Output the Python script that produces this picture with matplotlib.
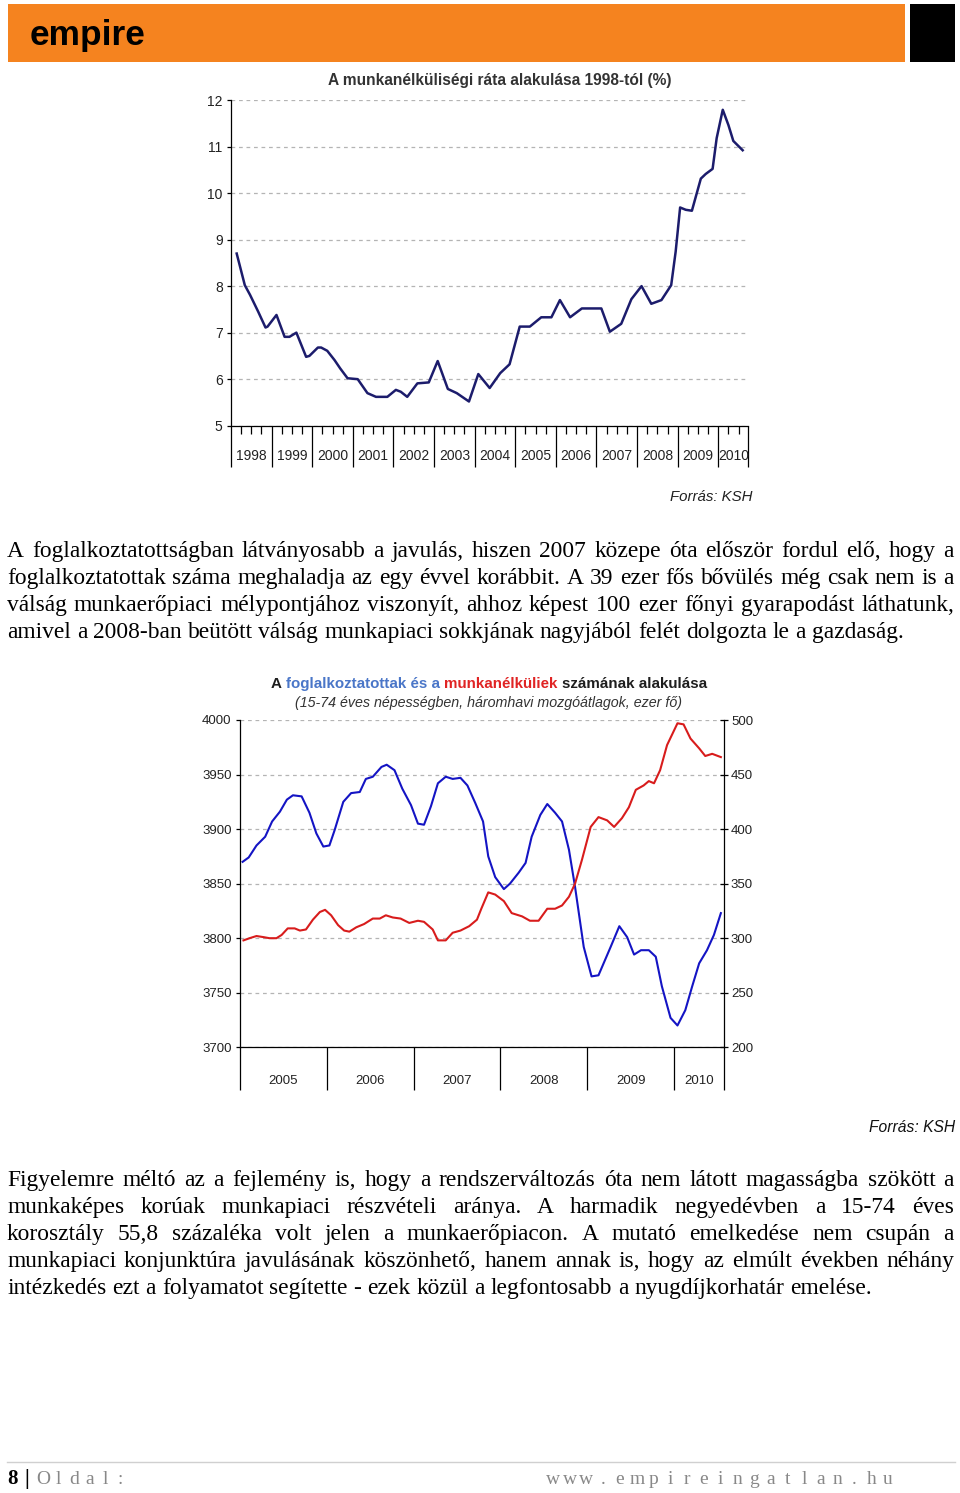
import matplotlib
matplotlib.use('Agg')
import matplotlib.pyplot as plt
from matplotlib.transforms import blended_transform_factory
from matplotlib.patches import Rectangle
from matplotlib.lines import Line2D

# ---------------- data ----------------
# Chart 1: unemployment rate (%) 1998-2010
rate_t = [1998.14, 1998.34, 1998.47, 1998.67, 1998.85, 1998.90, 1999.12, 1999.32, 1999.44, 1999.61,
          1999.85, 1999.93, 2000.14, 2000.22, 2000.37, 2000.55, 2000.69, 2000.87, 2001.12, 2001.36,
          2001.57, 2001.85, 2002.06, 2002.18, 2002.34, 2002.59, 2002.87, 2003.09, 2003.34, 2003.56,
          2003.86, 2004.09, 2004.37, 2004.63, 2004.86, 2005.11, 2005.36, 2005.64, 2005.89, 2006.10,
          2006.35, 2006.64, 2007.12, 2007.33, 2007.61, 2007.86, 2008.11, 2008.35, 2008.60, 2008.84,
          2008.95, 2009.06, 2009.20, 2009.35, 2009.57, 2009.69, 2009.86, 2009.96, 2010.11, 2010.25,
          2010.37, 2010.60]
rate_v = [8.70, 8.02, 7.81, 7.45, 7.11, 7.13, 7.38, 6.91, 6.91, 7.00,
          6.48, 6.50, 6.68, 6.68, 6.61, 6.41, 6.23, 6.02, 6.00, 5.70,
          5.62, 5.62, 5.77, 5.73, 5.62, 5.91, 5.93, 6.39, 5.79, 5.70,
          5.52, 6.11, 5.81, 6.13, 6.32, 7.13, 7.13, 7.33, 7.33, 7.70,
          7.33, 7.52, 7.52, 7.02, 7.19, 7.72, 8.00, 7.62, 7.70, 8.02,
          8.74, 9.69, 9.64, 9.62, 10.31, 10.41, 10.52, 11.18, 11.79, 11.46,
          11.12, 10.92]
years1 = list(range(1998, 2011))
year_labels1 = [str(y) for y in years1]

# Chart 2: employed (left axis) and unemployed (right axis), thousand persons
emp_t = [2005.03, 2005.10, 2005.19, 2005.29, 2005.37, 2005.46, 2005.54, 2005.61, 2005.71, 2005.80,
         2005.88, 2005.96, 2006.03, 2006.09, 2006.19, 2006.28, 2006.38, 2006.45, 2006.53, 2006.63,
         2006.69, 2006.78, 2006.87, 2006.97, 2007.05, 2007.12, 2007.20, 2007.28, 2007.37, 2007.45,
         2007.54, 2007.62, 2007.71, 2007.80, 2007.86, 2007.94, 2008.04, 2008.11, 2008.21, 2008.29,
         2008.36, 2008.46, 2008.54, 2008.63, 2008.71, 2008.79, 2008.86, 2008.96, 2009.05, 2009.13,
         2009.27, 2009.37, 2009.46, 2009.54, 2009.62, 2009.71, 2009.79, 2009.86, 2009.96, 2010.04,
         2010.13, 2010.21, 2010.29, 2010.38, 2010.46, 2010.54]
emp_v = [3870, 3874, 3885, 3893, 3907, 3916, 3927, 3931, 3930, 3915,
         3896, 3884, 3885, 3899, 3925, 3933, 3934, 3946, 3948, 3957,
         3959, 3954, 3937, 3922, 3905, 3904, 3921, 3942, 3948, 3946,
         3947, 3940, 3924, 3907, 3875, 3856, 3845, 3850, 3860, 3869,
         3893, 3913, 3923, 3915, 3907, 3881, 3847, 3792, 3765, 3766,
         3792, 3811, 3801, 3785, 3789, 3789, 3783, 3756, 3727, 3720,
         3734, 3756, 3777, 3789, 3803, 3823]
unemp_t = [2005.04, 2005.11, 2005.19, 2005.27, 2005.34, 2005.42, 2005.48, 2005.55, 2005.63, 2005.69,
           2005.76, 2005.84, 2005.92, 2005.98, 2006.05, 2006.13, 2006.20, 2006.26, 2006.34, 2006.43,
           2006.53, 2006.61, 2006.68, 2006.76, 2006.85, 2006.95, 2007.05, 2007.12, 2007.22, 2007.28,
           2007.37, 2007.45, 2007.54, 2007.64, 2007.73, 2007.78, 2007.86, 2007.94, 2008.04, 2008.13,
           2008.25, 2008.34, 2008.44, 2008.54, 2008.63, 2008.71, 2008.79, 2008.86, 2008.94, 2009.04,
           2009.13, 2009.23, 2009.31, 2009.40, 2009.48, 2009.56, 2009.65, 2009.71, 2009.77, 2009.84,
           2009.92, 2010.04, 2010.11, 2010.19, 2010.29, 2010.36, 2010.44, 2010.54]
unemp_v = [298, 300, 302, 301, 300, 300, 303, 309, 309, 307,
           308, 317, 324, 326, 321, 312, 307, 306, 310, 313,
           318, 318, 321, 319, 318, 314, 316, 315, 308, 298,
           298, 305, 307, 311, 317, 327, 342, 340, 334, 323,
           320, 316, 316, 327, 327, 330, 338, 350, 372, 402,
           411, 408, 402, 410, 420, 436, 440, 444, 442, 454,
           477, 497, 496, 483, 474, 467, 469, 466]
years2 = list(range(2005, 2011))
year_labels2 = [str(y) for y in years2]

# ---------------- page ----------------
W, H = 960, 1493
fig = plt.figure(figsize=(9.6, 14.93), dpi=100)
fig.patch.set_facecolor('white')
renderer = fig.canvas.get_renderer()

SANS = ['Liberation Sans', 'DejaVu Sans']
SERIF = ['Liberation Serif', 'DejaVu Serif']


def fx(x):
    return x / W


def fy(y):
    return 1 - y / H


def measure(s, **kw):
    t = fig.text(0, 0, s, **kw)
    w = t.get_window_extent(renderer).width
    t.remove()
    return w


def fit_size(s, target, **kw):
    return 10 * target / measure(s, fontsize=10, **kw)


# header
fig.add_artist(Rectangle((fx(8), fy(62)), fx(897), 58 / H, transform=fig.transFigure,
                         facecolor='#F5831F', edgecolor='none'))
fig.add_artist(Rectangle((fx(910), fy(62)), fx(45), 58 / H, transform=fig.transFigure,
                         facecolor='black', edgecolor='none'))
fig.text(fx(30), fy(45), 'empire', fontsize=fit_size('empire', 116, family=SANS, fontweight='heavy'),
         family=SANS, fontweight='heavy', color='black', ha='left', va='baseline')

# ---------------- chart 1 ----------------
ax1 = fig.add_axes([fx(231), fy(425.7), (748.3 - 231) / W, (425.7 - 100) / H])
x1end = 2010.739
ax1.plot(rate_t, rate_v, color='#1c1c6c', lw=1.8, solid_joinstyle='round')
ax1.set_xlim(1998, x1end)
ax1.set_ylim(5, 12)
ax1.set_yticks(range(5, 13))
ax1.tick_params(axis='y', length=3, width=0.9, direction='out', labelsize=10, pad=3,
                colors='black', labelcolor='#222222')
for lbl in ax1.get_yticklabels():
    lbl.set_family(SANS)
ax1.yaxis.grid(True, linestyle=(0, (3, 3)), color='#b4b4b4', lw=0.9)
ax1.set_axisbelow(True)
ax1.set_xticks(years1 + [x1end])
ax1.set_xticklabels([''] * (len(years1) + 1))
quarters = [y + q / 4 for y in years1 for q in (1, 2, 3) if y + q / 4 < x1end]
ax1.set_xticks(quarters, minor=True)
ax1.tick_params(axis='x', which='major', length=29.5, width=0.9, direction='out', color='black')
ax1.tick_params(axis='x', which='minor', length=5.4, width=0.9, direction='out', color='black')
for s in ('top', 'right'):
    ax1.spines[s].set_visible(False)
for s in ('left', 'bottom'):
    ax1.spines[s].set_linewidth(0.9)
tr1 = blended_transform_factory(ax1.transData, fig.transFigure)
for y, lab in zip(years1, year_labels1):
    xc = y + 0.5 if y < 2010 else (2010 + x1end) / 2
    ax1.text(xc, fy(456), lab, transform=tr1, ha='center', va='center', fontsize=10,
             family=SANS, color='#222222')
title1 = 'A munkanélküliségi ráta alakulása 1998-tól (%)'
fig.text(fx(500), fy(81), title1, ha='center', va='center',
         fontsize=fit_size(title1, 344, family=SANS, fontweight='bold'),
         family=SANS, fontweight='bold', color='#333333')
src = 'Forrás: KSH'
fig.text(fx(753), fy(497), src, ha='right', va='center',
         fontsize=fit_size(src, 83, family=SANS, style='italic'),
         family=SANS, style='italic', color='#222222')

# ---------------- paragraphs ----------------
para1 = [
    'A foglalkoztatottságban látványosabb a javulás, hiszen 2007 közepe óta először fordul elő, hogy a',
    'foglalkoztatottak száma meghaladja az egy évvel korábbit. A 39 ezer fős bővülés még csak nem is a',
    'válság munkaerőpiaci mélypontjához viszonyít, ahhoz képest 100 ezer főnyi gyarapodást láthatunk,',
    'amivel a 2008-ban beütött válság munkapiaci sokkjának nagyjából felét dolgozta le a gazdaság.',
]
para2 = [
    'Figyelemre méltó az a fejlemény is, hogy a rendszerváltozás óta nem látott magasságba szökött a',
    'munkaképes korúak munkapiaci részvételi aránya. A harmadik negyedévben a 15-74 éves',
    'korosztály 55,8 százaléka volt jelen a munkaerőpiacon. A mutató emelkedése nem csupán a',
    'munkapiaci konjunktúra javulásának köszönhető, hanem annak is, hogy az elmúlt években néhány',
    'intézkedés ezt a folyamatot segítette - ezek közül a legfontosabb a nyugdíjkorhatár emelése.',
]
fs_body = fit_size(para1[-1], 902, family=SERIF)
space_w = measure('a a', fontsize=fs_body, family=SERIF) - measure('aa', fontsize=fs_body, family=SERIF)


def justify(lines, y0, pitch, x0=7, x1=954):
    for i, line in enumerate(lines):
        words = line.split(' ')
        widths = [measure(w, fontsize=fs_body, family=SERIF) for w in words]
        y = y0 + i * pitch
        if i < len(lines) - 1 and len(words) > 1:
            gap = (x1 - x0 - sum(widths)) / (len(words) - 1)
        else:
            gap = space_w
        x = x0
        for w, wd in zip(words, widths):
            fig.text(fx(x), fy(y), w, ha='left', va='baseline', fontsize=fs_body,
                     family=SERIF, color='black')
            x += wd + gap


justify(para1, 557, 27)
justify(para2, 1186, 27)

# ---------------- chart 2 ----------------
ax2 = fig.add_axes([fx(240), fy(1047.3), (724 - 240) / W, (1047.3 - 720) / H])
x2end = 2010.576
ax2.plot(emp_t, emp_v, color='#1414c4', lw=1.5)
ax2.set_xlim(2005, x2end)
ax2.set_ylim(3700, 4000)
ax2.set_yticks(range(3700, 4001, 50))
ax2.tick_params(axis='y', length=3, width=0.9, direction='out', labelsize=9.5, pad=3,
                colors='black', labelcolor='#222222')
for lbl in ax2.get_yticklabels():
    lbl.set_family(SANS)
ax2.yaxis.grid(True, linestyle=(0, (3, 3)), color='#b4b4b4', lw=0.9)
ax2.set_axisbelow(True)
ax2.set_xticks(years2 + [x2end])
ax2.set_xticklabels([''] * (len(years2) + 1))
ax2.tick_params(axis='x', which='major', length=31.3, width=0.9, direction='out', color='black')
for s in ('top', 'right'):
    ax2.spines[s].set_visible(False)
for s in ('left', 'bottom'):
    ax2.spines[s].set_linewidth(0.9)

ax2b = ax2.twinx()
ax2b.plot(unemp_t, unemp_v, color='#d81c1c', lw=1.5)
ax2b.set_ylim(200, 500)
ax2b.set_yticks(range(200, 501, 50))
ax2b.tick_params(axis='y', length=6, width=0.9, direction='inout', labelsize=9.5, pad=2,
                 colors='black', labelcolor='#222222')
for lbl in ax2b.get_yticklabels():
    lbl.set_family(SANS)
for s in ('top', 'left', 'bottom'):
    ax2b.spines[s].set_visible(False)
ax2b.spines['right'].set_linewidth(0.9)

tr2 = blended_transform_factory(ax2.transData, fig.transFigure)
for y, lab in zip(years2, year_labels2):
    xc = y + 0.5 if y < 2010 else (2010 + x2end) / 2
    ax2.text(xc, fy(1081), lab, transform=tr2, ha='center', va='center', fontsize=9.5,
             family=SANS, color='#222222')

# multi-coloured title
pieces = [('A', '#1e1e1e'), ('foglalkoztatottak és a', '#4a76c8'),
          ('munkanélküliek', '#e02424'), ('számának alakulása', '#1e1e1e')]
full_title = ' '.join(p for p, _ in pieces)
fs_t2 = fit_size(full_title, 434, family=SANS, fontweight='bold')
sp2 = measure('a a', fontsize=fs_t2, family=SANS, fontweight='bold') - \
    measure('aa', fontsize=fs_t2, family=SANS, fontweight='bold')
widths2 = [measure(p, fontsize=fs_t2, family=SANS, fontweight='bold') for p, _ in pieces]
total2 = sum(widths2) + sp2 * (len(pieces) - 1)
x = 489 - total2 / 2
for (p, c), wd in zip(pieces, widths2):
    fig.text(fx(x), fy(684), p, ha='left', va='center', fontsize=fs_t2, family=SANS,
             fontweight='bold', color=c)
    x += wd + sp2
sub2 = '(15-74 éves népességben, háromhavi mozgóátlagok, ezer fő)'
fig.text(fx(488.5), fy(703), sub2, ha='center', va='center',
         fontsize=fit_size(sub2, 391, family=SANS, style='italic'),
         family=SANS, style='italic', color='#333333')
fig.text(fx(955), fy(1127), src, ha='right', va='center',
         fontsize=fit_size(src, 86, family=SANS, style='italic'),
         family=SANS, style='italic', color='#111111')

# ---------------- footer ----------------
fig.add_artist(Line2D([fx(7), fx(955)], [fy(1462), fy(1462)], transform=fig.transFigure,
                      color='#d0d0d0', lw=1))
fig.text(fx(12), fy(1479), '8', ha='center', va='center', fontsize=15, family=SERIF,
         fontweight='bold', color='black')
fig.text(fx(27), fy(1479), '|', ha='center', va='center', fontsize=15, family=SERIF,
         fontweight='bold', color='black')
for i, ch in enumerate('Oldal:'):
    fig.text(fx(43 + i * 15.5), fy(1479), ch, ha='center', va='center', fontsize=14,
             family=SERIF, color='#888888')
url = 'www.empireingatlan.hu'
for i, ch in enumerate(url):
    fig.text(fx(553 + i * 16.75), fy(1479), ch, ha='center', va='center', fontsize=14,
             family=SERIF, color='#888888')

fig.savefig('out.png', dpi=100, facecolor='white')
